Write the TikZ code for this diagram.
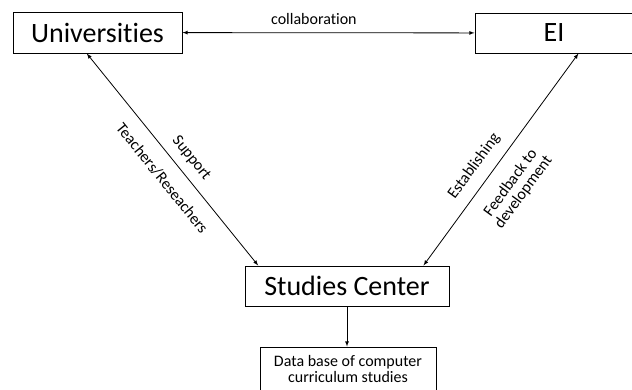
\documentclass[tikz,border=0pt]{standalone}
\usepackage{fontspec}
\setmainfont{Carlito}[Ligatures={NoCommon,NoContextual},RawFeature={-liga;-clig;-dlig}]
\begin{document}
\begin{tikzpicture}[x=1pt,y=-1pt,
   bigbox/.style={draw,line width=1pt,font=\fontsize{28}{32}\selectfont},
   smallbox/.style={draw,line width=1pt,font=\fontsize{16}{16}\selectfont,align=center},
   link/.style={line width=0.8pt,latex-latex},
   lbl/.style={font=\fontsize{16}{16}\selectfont,inner sep=1pt,align=center}]
   \useasboundingbox (0,0) rectangle (632,389);
   \node[bigbox,minimum width=169pt,minimum height=41pt] (univ) at (97.5,32.5) {Universities};
   \node[bigbox,minimum width=158pt,minimum height=40pt] (ei) at (554,33) {EI};
   \node[bigbox,minimum width=204pt,minimum height=40pt] (center) at (347,286) {Studies Center};
   \node[smallbox,minimum width=176pt,minimum height=44pt] (db) at (348,369) {Data base of computer\\curriculum studies};
   \draw[link] (univ) -- (ei) node[lbl,pos=0.45,above=7pt]{collaboration};
   \draw[link] (univ.243) -- (center.167)
      node[lbl,sloped,pos=0.54,above=7.5pt]{Support}
      node[lbl,sloped,pos=0.53,below=12.5pt]{Teachers/Reseachers};
   \draw[link] (center.15) -- (ei.-40)
      node[lbl,sloped,pos=0.42,above=9.5pt]{Establishing}
      node[lbl,sloped,pos=0.45,below=13.5pt]{Feedback to\\development};
   \draw[line width=0.8pt,-latex] (center.south) -- (center.south |- db.north);
\end{tikzpicture}
\end{document}
